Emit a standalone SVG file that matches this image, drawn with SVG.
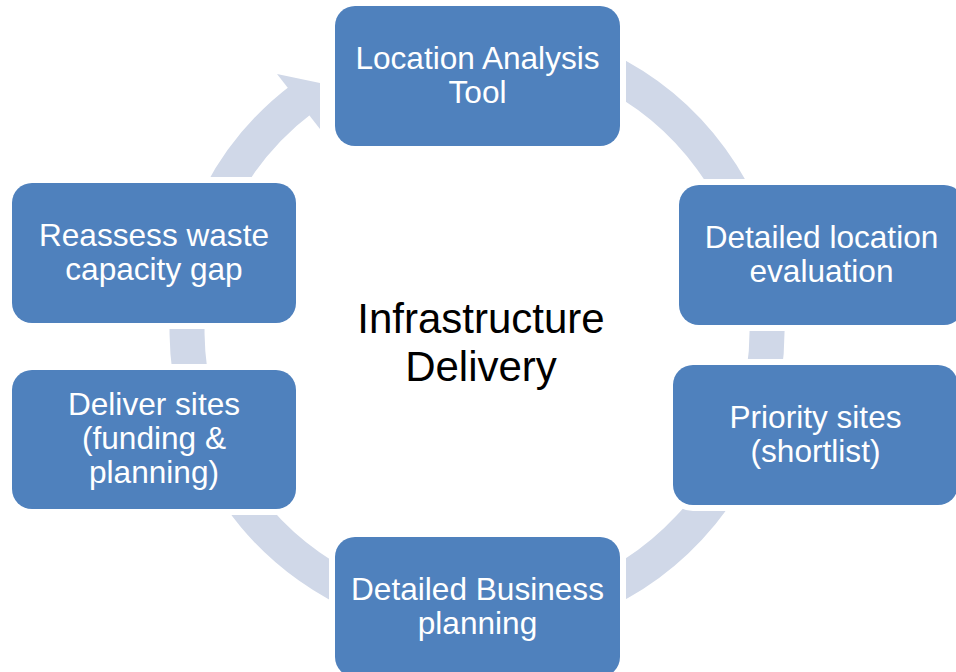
<svg xmlns="http://www.w3.org/2000/svg" width="956" height="672" viewBox="0 0 956 672">
<style>
.node rect{fill:#4F81BD;stroke:#FFFFFF;stroke-width:12;paint-order:stroke}
.lbl{font-family:"Liberation Sans",Arial,sans-serif;font-size:31.6px;fill:#FFFFFF;text-anchor:middle}
.ctr{font-family:"Liberation Sans",Arial,sans-serif;font-size:42px;fill:#000000;text-anchor:middle}
.ring{fill:none;stroke:#D0D8E8;stroke-width:35;stroke-linecap:butt}
</style>
<rect width="956" height="672" fill="#FFFFFF"/>
<g id="connectors">
<path class="ring" d="M477,40 A290,290 0 1 1 302.5,98.4"/>
<polygon points="277,74 320,83 320,129" fill="#D0D8E8"/>
</g>
<g id="center-label">
<text class="ctr" x="481" y="333">Infrastructure</text>
<text class="ctr" x="481" y="381">Delivery</text>
</g>
<g id="node-location-analysis" class="node">
<rect x="335" y="6" width="285" height="140" rx="20"/>
<text class="lbl" x="477.5" y="68.5">Location Analysis</text>
<text class="lbl" x="477.5" y="102.5">Tool</text>
</g>
<g id="node-detailed-location" class="node">
<rect x="679" y="185" width="285" height="140" rx="20"/>
<text class="lbl" x="821.5" y="247.5">Detailed location</text>
<text class="lbl" x="821.5" y="281.5">evaluation</text>
</g>
<g id="node-priority-sites" class="node">
<rect x="673" y="365" width="285" height="140" rx="20"/>
<text class="lbl" x="815.5" y="427.5">Priority sites</text>
<text class="lbl" x="815.5" y="461.5">(shortlist)</text>
</g>
<g id="node-business-planning" class="node">
<rect x="335" y="537" width="285" height="140" rx="20"/>
<text class="lbl" x="477.5" y="599.5">Detailed Business</text>
<text class="lbl" x="477.5" y="633.5">planning</text>
</g>
<g id="node-deliver-sites" class="node">
<rect x="12" y="370" width="284" height="139" rx="20"/>
<text class="lbl" x="154" y="415">Deliver sites</text>
<text class="lbl" x="154" y="449">(funding &amp;</text>
<text class="lbl" x="154" y="483">planning)</text>
</g>
<g id="node-reassess" class="node">
<rect x="12" y="183" width="284" height="140" rx="20"/>
<text class="lbl" x="154" y="245.5">Reassess waste</text>
<text class="lbl" x="154" y="279.5">capacity gap</text>
</g>
</svg>
